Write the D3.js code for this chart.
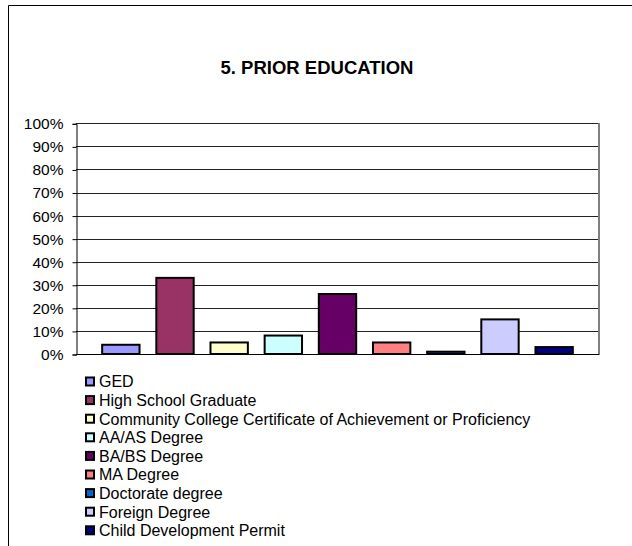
<!DOCTYPE html>
<html>
<head>
<meta charset="utf-8">
<script src="https://cdn.jsdelivr.net/npm/d3@7"></script>
<style>
  html, body { margin: 0; padding: 0; background: #fff; }
  svg { display: block; }
  text { font-family: "Liberation Sans", Arial, sans-serif; fill: #000; }
</style>
</head>
<body>
<svg id="chart" width="632" height="546"></svg>
<script>
const title = "5. PRIOR EDUCATION";
const categories = [
  "GED",
  "High School Graduate",
  "Community College Certificate of Achievement or Proficiency",
  "AA/AS Degree",
  "BA/BS Degree",
  "MA Degree",
  "Doctorate degree",
  "Foreign Degree",
  "Child Development Permit"
];
const values = [0.04, 0.33, 0.05, 0.08, 0.26, 0.05, 0.01, 0.15, 0.03];
const colors = ["#9999FF", "#993366", "#FFFFCC", "#CCFFFF", "#660066", "#FF8080", "#0066CC", "#CCCCFF", "#000080"];
const yTicks = [0, 0.1, 0.2, 0.3, 0.4, 0.5, 0.6, 0.7, 0.8, 0.9, 1.0];

const svg = d3.select("#chart");

// outer chart border
svg.append("path")
  .attr("d", "M8.5,546 L8.5,5.5 L640,5.5")
  .attr("fill", "none").attr("stroke", "#000").attr("stroke-width", 1);

// title
svg.append("text")
  .attr("x", 317).attr("y", 74)
  .attr("text-anchor", "middle")
  .attr("font-size", 18.5).attr("font-weight", "bold")
  .text(title);

const plot = { left: 76, right: 599, top: 123.3, bottom: 354 };

const x = d3.scaleBand()
  .domain(categories)
  .range([plot.left, plot.right])
  .paddingInner(0.31)
  .paddingOuter(0.483);

const y = d3.scaleLinear().domain([0, 1]).range([plot.bottom, plot.top]);

// gridlines
svg.append("g").selectAll("line").data(yTicks.slice(1)).join("line")
  .attr("x1", plot.left).attr("x2", plot.right)
  .attr("y1", d => Math.round(y(d)) + 0.5).attr("y2", d => Math.round(y(d)) + 0.5)
  .attr("stroke", "#222").attr("stroke-width", 1);

// right plot border (gray)
svg.append("line")
  .attr("x1", plot.right).attr("x2", plot.right)
  .attr("y1", Math.round(plot.top)).attr("y2", plot.bottom + 1)
  .attr("stroke", "#808080").attr("stroke-width", 2);

// y axis
const yAxis = d3.axisLeft(y)
  .tickValues(yTicks)
  .tickFormat(d3.format(".0%"))
  .tickSize(4)
  .tickPadding(9);
const yg = svg.append("g")
  .attr("transform", `translate(${plot.left + 0.5},0.5)`)
  .call(yAxis);
yg.select(".domain").attr("stroke", "#000");
yg.selectAll(".tick line").attr("stroke", "#000");
yg.selectAll(".tick text")
  .attr("font-family", "'Liberation Sans', Arial, sans-serif")
  .attr("font-size", 15.5).attr("fill", "#000");

// bottom axis line
svg.append("line")
  .attr("x1", plot.left).attr("x2", plot.right)
  .attr("y1", plot.bottom + 0.5).attr("y2", plot.bottom + 0.5)
  .attr("stroke", "#000").attr("stroke-width", 1);

// bars
svg.append("g").selectAll("rect").data(categories).join("rect")
  .attr("x", d => x(d))
  .attr("width", x.bandwidth())
  .attr("y", (d, i) => y(values[i]))
  .attr("height", (d, i) => y(0) - y(values[i]))
  .attr("fill", (d, i) => colors[i])
  .attr("stroke", "#000").attr("stroke-width", 2);

// legend
const legend = svg.append("g").attr("transform", "translate(85,376.5)");
const rows = legend.selectAll("g").data(categories).join("g")
  .attr("transform", (d, i) => `translate(0,${i * 18.6})`);
rows.append("rect")
  .attr("x", 1).attr("y", 1).attr("width", 8).attr("height", 8)
  .attr("fill", (d, i) => colors[i])
  .attr("stroke", "#000").attr("stroke-width", 2);
rows.append("text")
  .attr("x", 14).attr("y", 10.8)
  .attr("font-size", 16)
  .text(d => d);
</script>
</body>
</html>
